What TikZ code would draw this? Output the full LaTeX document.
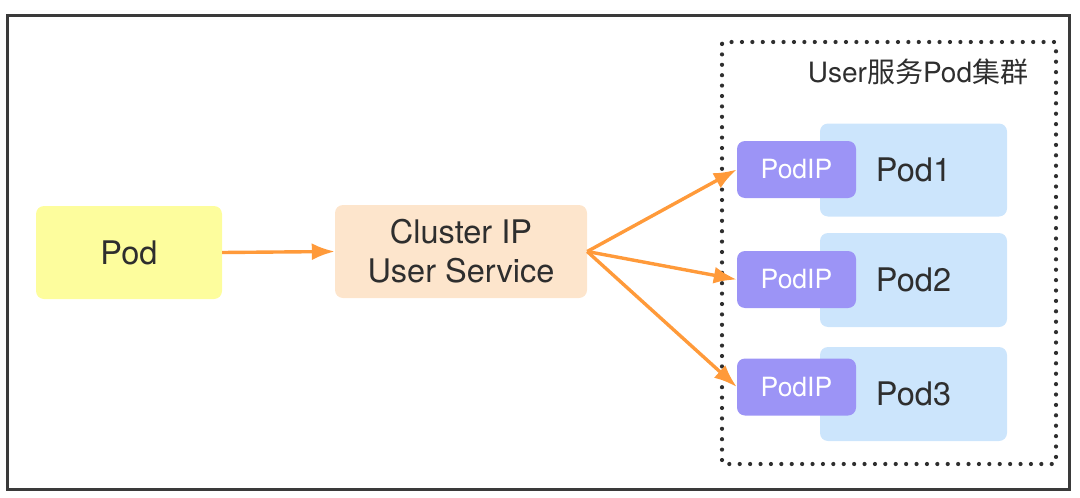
\documentclass[tikz,border=0pt]{standalone}
\usepackage{fontspec}
\setmainfont{TeX Gyre Heros}
\newfontfamily\cjk{Noto Sans CJK SC}
\usepackage{tikz}
\usetikzlibrary{arrows.meta,positioning}
\definecolor{tdark}{HTML}{2E2E2E}
\definecolor{fdark}{HTML}{3A3A3A}
\definecolor{pyellow}{HTML}{FDFD9D}
\definecolor{ppeach}{HTML}{FDE5CC}
\definecolor{pblue}{HTML}{CCE5FC}
\definecolor{ppurple}{HTML}{9C94F6}
\definecolor{porange}{HTML}{FF9A3A}
\tikzset{
  % flat filled box, no stroke
  blk/.style    = {rectangle, rounded corners=8pt, fill=#1, draw=none, inner sep=0pt,
                   align=center, text=tdark, font=\fontsize{32.5}{39}\selectfont},
  blk/.default  = pblue,
  ipbox/.style  = {rectangle, rounded corners=8pt, fill=ppurple, inner sep=0pt,
                   minimum width=119pt, minimum height=57pt, text=white,
                   font=\fontsize{26.5}{30}\selectfont},
  flow/.style   = {-{Latex[length=23pt,width=17pt]}, line width=3.4pt, porange},
  frame/.style  = {draw=fdark, line width=3pt},
  group/.style  = {draw=tdark, line width=4.2pt, line cap=round,
                   dash pattern=on 0pt off 10.4pt, rounded corners=2pt},
}
\begin{document}
\begin{tikzpicture}[x=1pt,y=-1pt]
\useasboundingbox (0,0) rectangle (1080,498);
% ---- outer frame ----------------------------------------------------
\draw[frame] (7,15) rectangle (1069,489);

% ---- client and service ---------------------------------------------
\node[blk=pyellow, minimum width=186pt, minimum height=93pt] (pod) at (129,252.5) {Pod};
\node[blk=ppeach, minimum width=252pt, minimum height=93pt] (svc) at (461,251.5)
      {Cluster IP\\User Service};

% ---- pod group ------------------------------------------------------
\draw[group] (722,42) rectangle (1056,464);
\node[text=tdark, font=\fontsize{28}{32}\selectfont] (grp) at (918,72)
      {User{\cjk 服务}Pod{\cjk 集群}};

\foreach \i/\y/\h/\yip in {1/170/93/169.5, 2/280/94/279.5, 3/394/94/387} {
  \node[blk, minimum width=187pt, minimum height=\h pt] (p\i) at (913.5,\y) {Pod\i};
  \node[ipbox] (ip\i) at (796.5,\yip) {PodIP};
}

% ---- traffic --------------------------------------------------------
\draw[flow] (pod.east) -- (svc.west);
\foreach \i in {1,2,3}
  \draw[flow] (svc.east) -- (ip\i.west);
\end{tikzpicture}
\end{document}
